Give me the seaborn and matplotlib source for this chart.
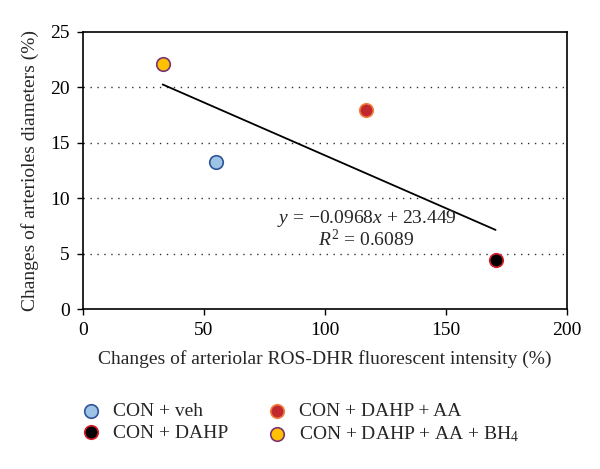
import matplotlib
matplotlib.use("Agg")
import pandas as pd
import seaborn as sns
import matplotlib.pyplot as plt

# data
groups = ["CON + veh", "CON + DAHP", "CON + DAHP + AA", "CON + DAHP + AA + BH$_4$"]
ros_change = [55, 170.5, 117, 33]
diam_change = [13.3, 4.4, 18.0, 22.1]
face_colors = ["#9dc3e6", "#000000", "#c0282d", "#ffc000"]
edge_colors = ["#2f5597", "#d9202a", "#f08040", "#7a3470"]

df = pd.DataFrame({"group": groups, "ros": ros_change, "diam": diam_change})

sns.set_style("ticks")
plt.rcParams["font.family"] = ["Liberation Serif", "DejaVu Serif"]
plt.rcParams["mathtext.fontset"] = "custom"
plt.rcParams["mathtext.rm"] = "Liberation Serif"
plt.rcParams["mathtext.it"] = "Liberation Serif:italic"

fig = plt.figure(figsize=(6, 4.69), dpi=100)
ax = fig.add_axes([0.138, 0.341, 0.807, 0.591])

# dotted grid lines
for yv in [5, 10, 15, 20]:
    ax.axhline(yv, color="#333333", linestyle=(0, (1, 4)), linewidth=1.0, zorder=0)

# regression line over the data range
sns.regplot(data=df, x="ros", y="diam", scatter=False, ci=None, truncate=True,
            line_kws={"color": "black", "linewidth": 1.3}, ax=ax)

for i, g in enumerate(groups):
    sub = df[df["group"] == g]
    sns.scatterplot(data=sub, x="ros", y="diam", color=face_colors[i],
                    edgecolor=edge_colors[i], linewidth=1.2, s=95,
                    label=g, ax=ax, zorder=3)

ax.text(117.5, 8.2, "$y$ = \u22120.0968$x$ + 23.449", ha="center", va="center",
        fontsize=14)
ax.text(117, 6.25, "$R^2$ = 0.6089", ha="center", va="center", fontsize=14)

ax.set_xlim(0, 200)
ax.set_ylim(0, 25)
ax.set_xticks([0, 50, 100, 150, 200])
ax.set_yticks([0, 5, 10, 15, 20, 25])
ax.tick_params(direction="out", length=4.5, width=1, labelsize=14, colors="black",
               pad=5)
for sp in ax.spines.values():
    sp.set_linewidth(1.2)
    sp.set_color("black")

ax.set_xlabel("Changes of arteriolar ROS-DHR fluorescent intensity (%)", fontsize=14,
              labelpad=8)
ax.set_ylabel("Changes of arterioles diameters (%)", fontsize=14, labelpad=8)

handles, labels = ax.get_legend_handles_labels()
ax.legend_.remove()
fig.legend(handles, labels, ncol=2, loc="center left", bbox_to_anchor=(0.135, 0.098),
           frameon=False, fontsize=14, columnspacing=2.0, handlelength=1.0,
           handletextpad=0.65, labelspacing=0.2, borderpad=0, borderaxespad=0)

fig.savefig("out.png", dpi=100)
